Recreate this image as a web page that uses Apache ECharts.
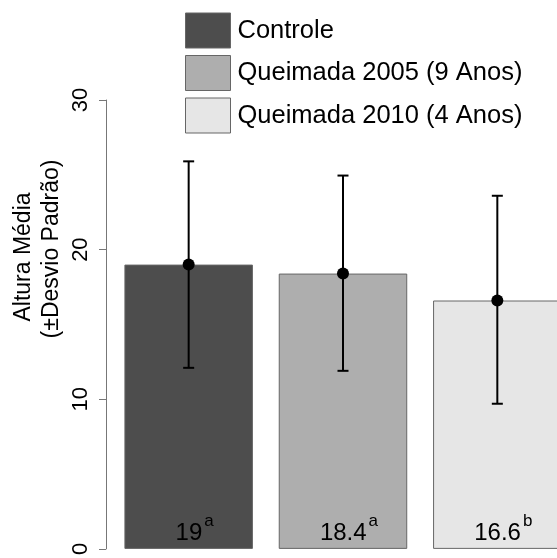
<!DOCTYPE html>
<html>
<head>
<meta charset="utf-8">
<script src="https://cdn.jsdelivr.net/npm/echarts@6/dist/echarts.min.js"></script>
<style>html,body{margin:0;padding:0;background:#fff}#c{width:557px;height:558px}</style>
</head>
<body>
<div id="c"></div>
<script>
const categories = ['Controle', 'Queimada 2005 (9 Anos)', 'Queimada 2010 (4 Anos)'];
const means = [19, 18.4, 16.6];
const sdLow = [12.1, 11.9, 9.7];
const sdHigh = [25.9, 24.95, 23.6];
const meanLabels = ['19', '18.4', '16.6'];
const letters = ['a', 'a', 'b'];
const yTicks = [0, 10, 20, 30];
const barColors = ['#4d4d4d', '#aeaeae', '#e6e6e6'];

const FONT = '"Liberation Sans", Arial, sans-serif';
const chart = echarts.init(document.getElementById('c'), null, {renderer: 'canvas'});

// band of 154.33 px per category, first band starting at grid left
const BAND = 154.33;
const GRID_LEFT = 111.5;
const xMin = -0.5;
const xMax = (557 - GRID_LEFT) / BAND - 0.5;

const barSeries = categories.map((name, i) => ({
  type: 'bar',
  name: name,
  barWidth: 128.5,
  barGap: '-100%',
  data: [[i, means[i]]],
  itemStyle: {color: barColors[i], borderColor: '#666', borderWidth: 1},
  label: {
    show: true,
    position: 'insideBottom',
    distance: 4,
    formatter: () => '{pad| }{v|' + meanLabels[i] + '}{s|' + letters[i] + '}',
    rich: {
      pad: {width: 12, fontSize: 17, lineHeight: 32, verticalAlign: 'top'},
      v: {fontSize: 24, lineHeight: 24, color: '#000', fontFamily: FONT, verticalAlign: 'bottom'},
      s: {fontSize: 17, lineHeight: 17, color: '#000', fontFamily: FONT, verticalAlign: 'top', padding: [0, 0, 0, 2]}
    }
  }
}));

const option = {
  animation: false,
  backgroundColor: '#fff',
  grid: {left: GRID_LEFT, top: 100, bottom: 8, right: 0, containLabel: false},
  legend: {
    data: categories,
    orient: 'vertical',
    left: 185,
    top: 12.5,
    padding: 0,
    itemWidth: 45,
    itemHeight: 35,
    itemGap: 6.5,
    icon: 'rect',
    selectedMode: false,
    itemStyle: {borderColor: '#666', borderWidth: 1},
    textStyle: {fontSize: 25.5, color: '#000', fontFamily: FONT, padding: [0, 0, 0, 2]}
  },
  xAxis: {
    type: 'value',
    min: xMin,
    max: xMax,
    show: false
  },
  yAxis: {
    type: 'value',
    min: yTicks[0],
    max: yTicks[yTicks.length - 1],
    interval: 10,
    offset: 5.5,
    splitLine: {show: false},
    axisLine: {show: true, onZero: false, lineStyle: {color: '#777', width: 1}},
    axisTick: {show: true, length: 7, lineStyle: {color: '#777'}},
    axisLabel: {rotate: 90, margin: 14, fontSize: 22, color: '#000', fontFamily: FONT}
  },
  graphic: [
    {type: 'text', x: 24, y: 257, rotation: Math.PI / 2,
     style: {text: 'Altura Média', font: '23px ' + FONT, fill: '#000', textAlign: 'center', textVerticalAlign: 'middle'}},
    {type: 'text', x: 52, y: 249, rotation: Math.PI / 2,
     style: {text: '(±Desvio Padrão)', font: '23px ' + FONT, fill: '#000', textAlign: 'center', textVerticalAlign: 'middle'}}
  ],
  series: barSeries.concat([
    {
      type: 'custom',
      name: 'sd',
      z: 5,
      data: categories.map((c, i) => [i, sdLow[i], sdHigh[i]]),
      renderItem: function (params, api) {
        const x = api.value(0);
        const lo = api.coord([x, api.value(1)]);
        const hi = api.coord([x, api.value(2)]);
        const cw = 5.5;
        const st = {stroke: '#000', lineWidth: 2};
        return {
          type: 'group',
          children: [
            {type: 'line', shape: {x1: lo[0], y1: lo[1], x2: hi[0], y2: hi[1]}, style: st},
            {type: 'line', shape: {x1: lo[0] - cw, y1: lo[1], x2: lo[0] + cw, y2: lo[1]}, style: st},
            {type: 'line', shape: {x1: hi[0] - cw, y1: hi[1], x2: hi[0] + cw, y2: hi[1]}, style: st}
          ]
        };
      }
    },
    {
      type: 'scatter',
      name: 'mean',
      z: 6,
      symbol: 'circle',
      symbolSize: 12,
      itemStyle: {color: '#000', opacity: 1},
      data: means.map((v, i) => [i, v])
    }
  ])
};
chart.setOption(option);
</script>
</body>
</html>
